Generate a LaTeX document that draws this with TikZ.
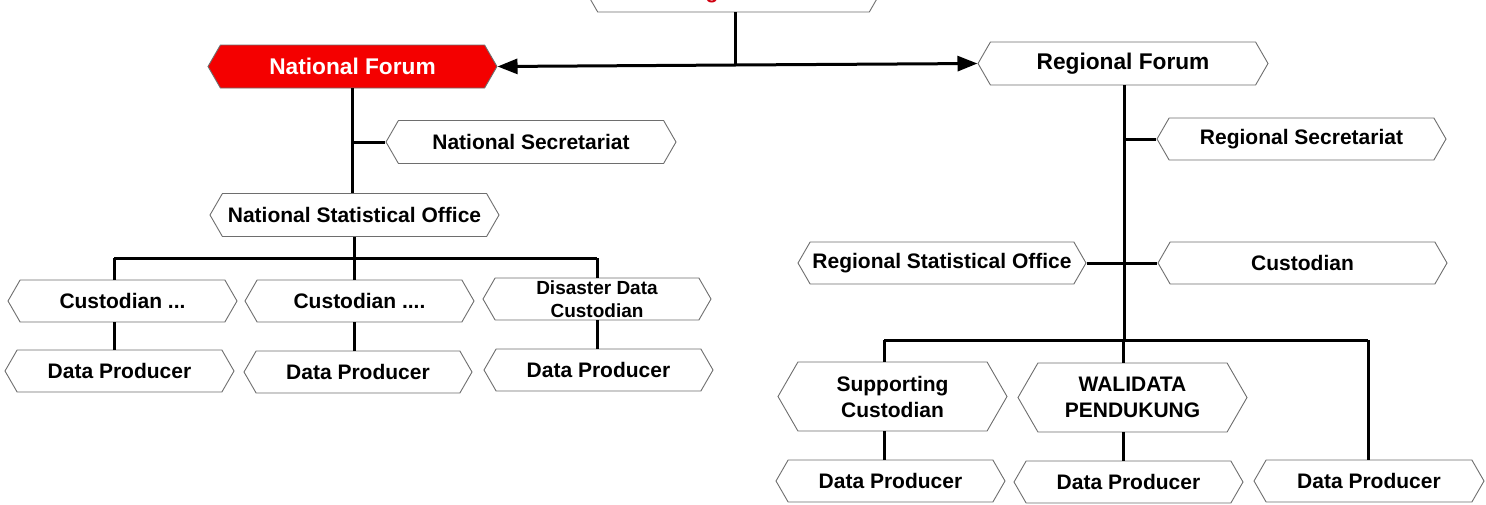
\documentclass[tikz,border=0pt]{standalone}
\usepackage{fontspec}
\setmainfont{Liberation Sans}
\usetikzlibrary{shapes.symbols,arrows.meta}
\definecolor{frame}{HTML}{6E6E6E}
\definecolor{forumred}{HTML}{F40000}
\definecolor{steerred}{HTML}{D00010}
\tikzset{
  hexbox/.style={shape=signal, signal to=west and east, signal pointer angle=120,
    draw=frame, line width=0.9pt, fill=white, inner sep=0pt, align=center,
    font=\bfseries\fontsize{21}{26}\selectfont, minimum height=43pt, text=black},
  bigfont/.style={font=\bfseries\fontsize{22.7}{26}\selectfont},
  smallfont/.style={font=\bfseries\fontsize{19}{22.5}\selectfont},
  link/.style={line width=3pt, draw=black},
  tip/.style={-{Triangle[length=20pt,width=15pt]}},
}
\begin{document}
\begin{tikzpicture}[x=1pt,y=-1pt]
\useasboundingbox (0,0) rectangle (1486,504);
% nodes
\node[hexbox, minimum width=297pt, minimum height=44pt, text=steerred] (steer) at (733.5,-10) {\raisebox{-8.5pt}[0pt][0pt]{Steering Committee}};
\node[hexbox, bigfont, minimum width=289pt, fill=forumred, text=white] (nf) at (352.5,66.5) {National Forum};
\node[hexbox, bigfont, minimum width=290pt] (rf) at (1123,63.5) {Regional Forum};
\node[hexbox, minimum width=290pt] (ns) at (531,142) {National Secretariat};
\node[hexbox, minimum width=289pt] (nso) at (354.5,215) {National Statistical Office};
\node[hexbox, minimum width=229pt, minimum height=42pt] (c1) at (122.5,301) {Custodian ...};
\node[hexbox, minimum width=229pt, minimum height=42pt] (c2) at (359.5,301) {Custodian ....};
\node[hexbox, smallfont, minimum width=228pt, minimum height=42pt] (c3) at (597,299) {Disaster Data\\Custodian};
\node[hexbox, minimum width=229pt, minimum height=42pt] (d1) at (119.5,371) {Data Producer};
\node[hexbox, minimum width=228pt, minimum height=42pt] (d2) at (358,372) {Data Producer};
\node[hexbox, minimum width=229pt, minimum height=42pt] (d3) at (598.5,370) {Data Producer};
\node[hexbox, minimum width=289pt, minimum height=42pt] (rs) at (1301.5,139) {Regional Secretariat};
\node[hexbox, minimum width=288pt, minimum height=42pt] (rso) at (942,263) {Regional Statistical Office};
\node[hexbox, minimum width=289pt, minimum height=42pt] (rc) at (1302.5,263) {Custodian};
\node[hexbox, minimum width=229pt, minimum height=69pt] (sc) at (892.5,396.5) {Supporting\\Custodian};
\node[hexbox, minimum width=229pt, minimum height=69pt] (wp) at (1132.5,397.5) {WALIDATA\\PENDUKUNG};
\node[hexbox, minimum width=229pt, minimum height=42pt] (d4) at (890.5,481) {Data Producer};
\node[hexbox, minimum width=229pt, minimum height=42pt] (d5) at (1128.5,482) {Data Producer};
\node[hexbox, minimum width=230pt, minimum height=42pt] (d6) at (1369,481) {Data Producer};
% junction coordinates
\coordinate (j) at (735,65);
\coordinate (nb) at (354,258);
\coordinate (b1) at (114,258);
\coordinate (b3) at (597,258);
\coordinate (rj) at (1124,340);
\coordinate (r1) at (884,340);
\coordinate (r2) at (1123,340);
\coordinate (r3) at (1368,340);
% connectors
\draw[link] (j |- steer.south) -- (j);
\draw[link, tip] (j) -- (nf.east);
\draw[link, tip] (j) -- (rf.west);
\draw[link] (nf.south) -- (nf.south |- nso.north);
\draw[link] (ns.west) -- (ns.west -| nf.south);
\draw[link] (nb |- nso.south) -- (nb);
\draw[link] (b1) -- (b3);
\draw[link] (b1) -- (b1 |- c1.north);
\draw[link] (nb) -- (nb |- c2.north);
\draw[link] (b3) -- (b3 |- c3.north);
\draw[link] (b1 |- c1.south) -- (b1 |- d1.north);
\draw[link] (nb |- c2.south) -- (nb |- d2.north);
\draw[link] (b3 |- c3.south) -- (b3 |- d3.north);
\draw[link] (rj |- rf.south) -- (rj);
\draw[link] (rs.west) -- (rs.west -| rj);
\draw[link] (rso.east) -- (rc.west);
\draw[link] (r1) -- (r3);
\draw[link] (r1) -- (r1 |- sc.north);
\draw[link] (r2) -- (r2 |- wp.north);
\draw[link] (r3) -- (r3 |- d6.north);
\draw[link] (r1 |- sc.south) -- (r1 |- d4.north);
\draw[link] (r2 |- wp.south) -- (r2 |- d5.north);
\end{tikzpicture}
\end{document}
